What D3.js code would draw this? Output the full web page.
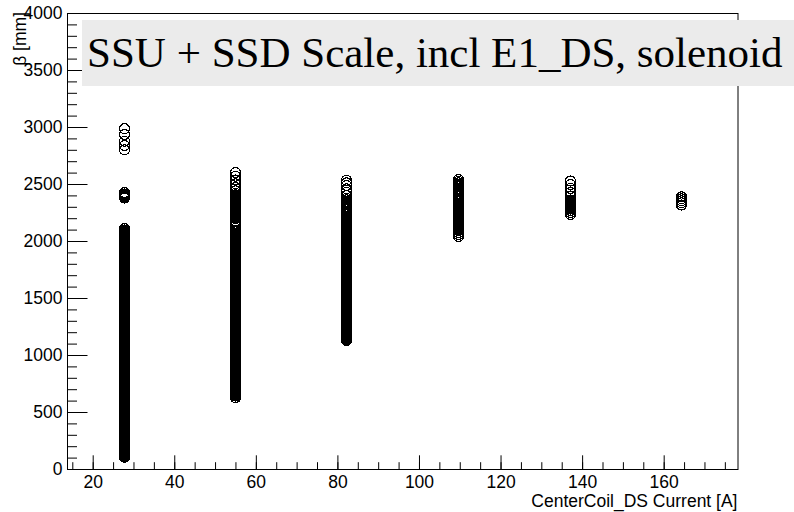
<!DOCTYPE html>
<html>
<head>
<meta charset="utf-8">
<script src="https://cdn.jsdelivr.net/npm/d3@7"></script>
<style>
  body { margin: 0; background: #fff; }
  text { font-family: "Liberation Sans", Arial, Helvetica, sans-serif; }
</style>
</head>
<body>
<svg id="chart" width="794" height="512"></svg>
<script>
// Coil current settings [A] and the beta values [mm] measured at each one
const currents = [27.6, 54.9, 82.2, 109.6, 137.0, 164.3];

const beta27 = [104,111,120,128,137,145,154,163,171,180,188,197,205,214,223,231,240,248,257,266,274,283,291,300,309,317,326,334,343,352,360,369,377,386,395,403,412,420,429,438,446,455,463,472,481,489,498,506,515,524,532,541,549,558,567,575,584,592,601,610,618,627,635,644,653,661,670,678,687,696,704,713,721,730,739,747,756,764,773,782,790,799,807,816,825,833,842,850,859,868,876,885,893,902,911,919,928,936,945,954,962,971,979,988,997,1005,1014,1022,1031,1040,1048,1057,1065,1074,1083,1091,1100,1108,1117,1126,1134,1143,1151,1160,1169,1177,1186,1194,1203,1212,1220,1229,1237,1246,1255,1263,1272,1280,1289,1298,1306,1315,1323,1332,1341,1349,1358,1366,1375,1384,1392,1401,1409,1418,1427,1435,1444,1452,1461,1470,1478,1487,1495,1504,1513,1521,1530,1538,1547,1556,1564,1573,1581,1590,1599,1607,1616,1624,1633,1642,1650,1659,1667,1676,1685,1693,1702,1710,1719,1728,1736,1745,1753,1762,1771,1779,1788,1796,1805,1814,1822,1831,1839,1848,1857,1865,1874,1882,1891,1900,1908,1917,1925,1934,1943,1951,1960,1968,1977,1986,1994,2003,2011,2020,2029,2037,2046,2054,2063,2072,2080,2089,2097,2110,2378,2388,2397,2404,2413,2426,2800,2838,2876,2935,2985];

const beta55 = [626,641,650,659,668,677,686,695,704,713,722,731,740,749,758,767,776,790,804,813,822,831,840,849,858,867,876,885,894,903,912,921,930,939,948,957,966,975,984,993,1002,1011,1020,1029,1038,1047,1056,1065,1074,1083,1092,1101,1110,1119,1128,1137,1146,1155,1164,1173,1182,1191,1200,1209,1218,1227,1236,1245,1254,1263,1272,1281,1290,1299,1308,1317,1326,1335,1344,1353,1362,1371,1380,1389,1398,1407,1416,1425,1434,1443,1452,1461,1470,1479,1488,1497,1506,1515,1524,1533,1542,1551,1560,1569,1578,1587,1596,1605,1614,1623,1632,1641,1650,1659,1668,1677,1686,1695,1704,1713,1722,1731,1740,1749,1758,1767,1776,1785,1794,1803,1812,1821,1830,1839,1848,1857,1866,1875,1884,1893,1902,1911,1920,1929,1938,1947,1956,1965,1974,1983,1992,2001,2010,2019,2028,2037,2046,2055,2064,2080,2095,2112,2130,2150,2172,2196,2206,2215,2224,2233,2242,2251,2260,2269,2278,2287,2296,2305,2314,2323,2332,2341,2350,2359,2368,2377,2386,2395,2405,2418,2440,2470,2502,2535,2568,2600];

const beta82 = [1127,1136,1145,1154,1163,1172,1181,1190,1199,1208,1217,1226,1235,1244,1253,1262,1271,1280,1289,1298,1307,1316,1325,1334,1343,1352,1361,1370,1379,1388,1397,1406,1415,1424,1433,1442,1451,1460,1469,1478,1487,1496,1505,1514,1523,1532,1541,1550,1559,1568,1577,1586,1595,1604,1613,1622,1631,1640,1650,1661,1672,1690,1700,1710,1720,1730,1748,1758,1768,1778,1790,1800,1810,1820,1830,1840,1850,1860,1870,1880,1890,1900,1910,1920,1930,1940,1950,1960,1970,1980,1990,2000,2010,2020,2030,2040,2052,2063,2074,2085,2096,2107,2118,2129,2140,2151,2162,2173,2184,2196,2207,2218,2229,2240,2251,2262,2273,2284,2295,2306,2317,2328,2339,2350,2362,2375,2398,2428,2458,2486,2510,2532];

const beta110 = [2040,2058,2075,2090,2101,2112,2123,2134,2145,2156,2167,2178,2189,2200,2211,2222,2233,2244,2255,2266,2277,2288,2299,2310,2321,2332,2343,2354,2365,2376,2387,2398,2409,2420,2431,2442,2453,2464,2475,2486,2497,2510,2525,2540];

const beta137 = [2232,2250,2268,2280,2290,2298,2306,2314,2322,2330,2338,2346,2360,2395,2428,2462,2495,2527];

const beta164 = [2315,2335,2352,2370,2388];

const betaByCurrent = [beta27, beta55, beta82, beta110, beta137, beta164];

// Axis ticks
const xMajorTicks = [20, 40, 60, 80, 100, 120, 140, 160];
const xMinorTicks = [15,20,25,30,35,40,45,50,55,60,65,70,75,80,85,90,95,100,105,110,115,120,125,130,135,140,145,150,155,160,165,170,175];
const yMajorTicks = [0, 500, 1000, 1500, 2000, 2500, 3000, 3500, 4000];
const yMinorTicks = d3.range(0, 4001, 100);

const titleText = "SSU + SSD Scale, incl E1_DS, solenoid";
const xTitle = "CenterCoil_DS Current [A]";
const yTitle = "β [mm]";

const svg = d3.select("#chart");
const frame = { left: 67, right: 737.5, top: 13, bottom: 469 };

const x = d3.scaleLinear().domain([13.7, 178.1]).range([frame.left, frame.right]);
const y = d3.scaleLinear().domain([0, 4000]).range([frame.bottom, frame.top]);

// Markers: open circles, drawn without anti-aliasing
const points = [];
betaByCurrent.forEach((vals, i) => vals.forEach(v => points.push({ c: currents[i], b: v })));

svg.append("g")
  .attr("shape-rendering", "crispEdges")
  .selectAll("circle")
  .data(points)
  .join("circle")
  .attr("cx", d => Math.round(x(d.c)) + 0.5)
  .attr("cy", d => y(d.b))
  .attr("r", 5)
  .attr("fill", "none")
  .attr("stroke", "#000")
  .attr("stroke-width", 1.2);

// X axis: minor and major ticks pointing inward
const xMinor = svg.append("g").attr("transform", `translate(0,${frame.bottom})`)
  .call(d3.axisBottom(x).tickValues(xMinorTicks).tickSize(-6.8).tickFormat(""));
const xMajor = svg.append("g").attr("transform", `translate(0,${frame.bottom})`)
  .call(d3.axisBottom(x).tickValues(xMajorTicks).tickSize(-13.7).tickPadding(6.5).tickFormat(d3.format("d")));

// Y axis
const yMinor = svg.append("g").attr("transform", `translate(${frame.left},0)`)
  .call(d3.axisLeft(y).tickValues(yMinorTicks).tickSize(-10).tickFormat(""));
const yMajor = svg.append("g").attr("transform", `translate(${frame.left},0)`)
  .call(d3.axisLeft(y).tickValues(yMajorTicks).tickSize(-20.5).tickPadding(4.5).tickFormat(d3.format("d")));

[xMinor, xMajor, yMinor, yMajor].forEach(g => {
  g.select(".domain").remove();
  g.selectAll(".tick line").attr("stroke", "#000").attr("stroke-width", 1);
  g.selectAll("text")
    .attr("fill", "#000")
    .style("font-size", "17.5px")
    .style("font-family", "'Liberation Sans', Arial, sans-serif");
});

// Frame
svg.append("rect")
  .attr("x", frame.left + 0.5)
  .attr("y", frame.top + 0.5)
  .attr("width", frame.right - frame.left)
  .attr("height", frame.bottom - frame.top)
  .attr("fill", "none")
  .attr("stroke", "#000")
  .attr("stroke-width", 1);

// Axis titles
svg.append("text")
  .attr("x", frame.right)
  .attr("y", 507)
  .attr("text-anchor", "end")
  .style("font-size", "17.5px")
  .attr("fill", "#000")
  .text(xTitle);

svg.append("text")
  .attr("transform", "translate(26,12) rotate(-90)")
  .attr("text-anchor", "end")
  .style("font-size", "17.5px")
  .attr("fill", "#000")
  .text(yTitle);

// Title box
svg.append("rect")
  .attr("x", 82)
  .attr("y", 20)
  .attr("width", 730)
  .attr("height", 66)
  .attr("fill", "#ebebeb");

svg.append("text")
  .attr("x", 87)
  .attr("y", 67)
  .style("font-family", "'Liberation Serif', 'Times New Roman', serif")
  .style("font-size", "43px")
  .attr("fill", "#000")
  .text(titleText);
</script>
</body>
</html>
